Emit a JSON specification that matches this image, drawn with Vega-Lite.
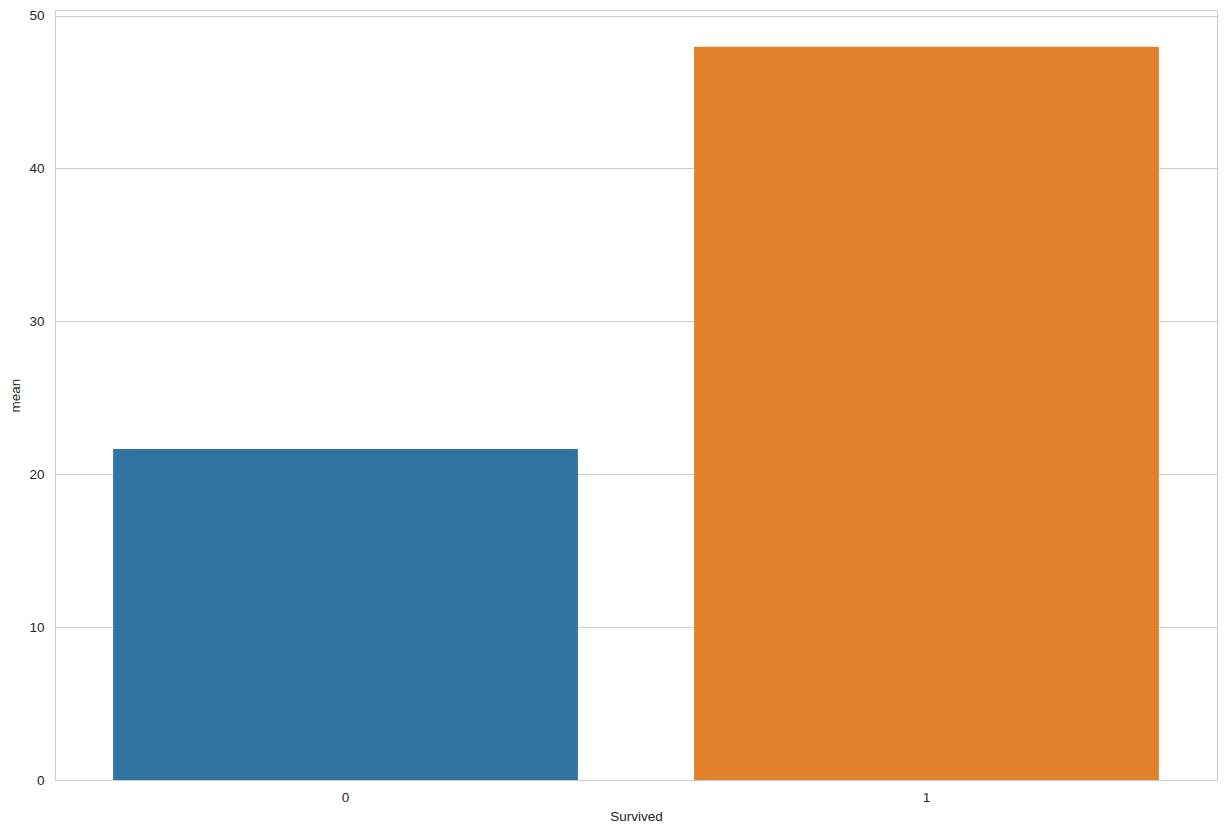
{
  "$schema": "https://vega.github.io/schema/vega-lite/v6.json",
  "width": 1162,
  "height": 770,
  "padding": {"left": 55, "top": 10, "right": 10, "bottom": 53},
  "autosize": {"type": "none"},
  "background": "white",
  "data": {"values": [
    {"Survived": "0", "mean": 21.65},
    {"Survived": "1", "mean": 47.95}
  ]},
  "mark": {"type": "bar"},
  "encoding": {
    "x": {
      "field": "Survived", "type": "nominal",
      "scale": {"paddingInner": 0.2, "paddingOuter": 0.1},
      "axis": {"labelAngle": 0, "grid": false, "domain": false, "ticks": false, "labelPadding": 10, "titlePadding": 6}
    },
    "y": {
      "field": "mean", "type": "quantitative",
      "scale": {"domain": [0, 50.36], "nice": false},
      "axis": {"values": [0, 10, 20, 30, 40, 50], "domain": false, "ticks": false, "labelPadding": 11, "titlePadding": 6, "gridColor": "#cccccc", "gridWidth": 1}
    },
    "color": {
      "field": "Survived", "type": "nominal",
      "scale": {"range": ["#3274a1", "#e1812c"]},
      "legend": null
    }
  },
  "config": {
    "view": {"stroke": "#cccccc", "strokeWidth": 1},
    "axis": {
      "labelFont": "Liberation Sans", "titleFont": "Liberation Sans",
      "labelFontSize": 13.5, "titleFontSize": 13.5,
      "labelColor": "#262626", "titleColor": "#262626",
      "titleFontWeight": "normal"
    }
  }
}
